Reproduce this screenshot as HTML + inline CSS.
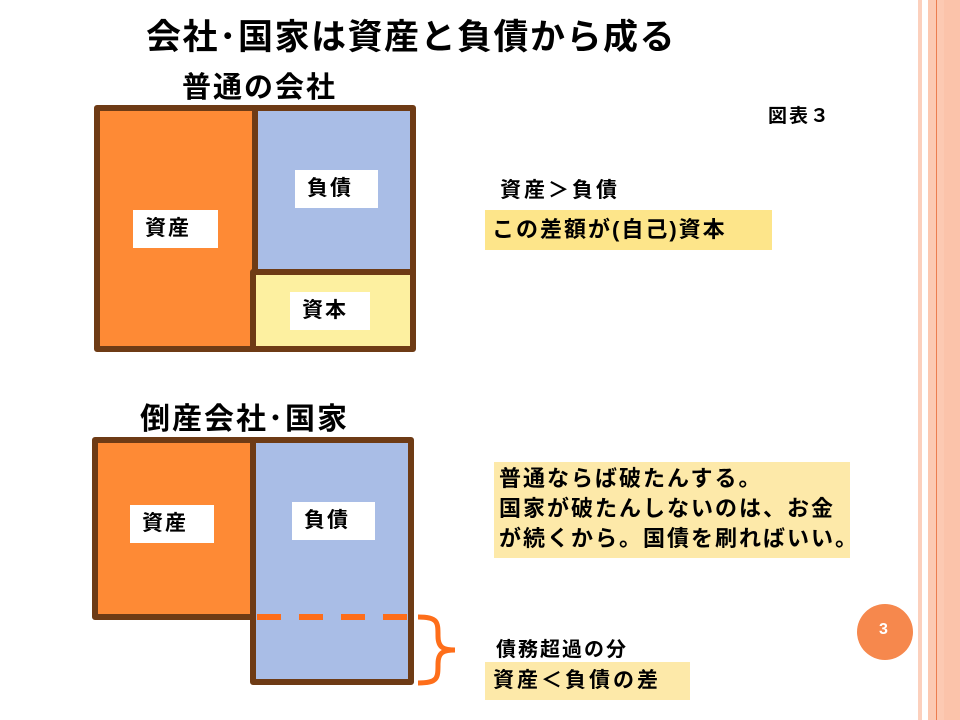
<!DOCTYPE html>
<html><head><meta charset="utf-8"><style>
html,body{margin:0;padding:0;background:#fff;}
body{width:960px;height:720px;position:relative;overflow:hidden;font-family:"Liberation Sans","Noto Sans CJK JP",sans-serif;font-weight:bold;color:#000;}
.t{position:absolute;white-space:nowrap;}
.lb{position:absolute;background:#fff;font-size:21px;line-height:38px;padding-left:12px;box-sizing:border-box;letter-spacing:2px;}
.yb{position:absolute;background:#fde58a;box-sizing:border-box;white-space:nowrap;}
</style></head><body>
<div style="position:absolute;left:918px;top:0;width:4px;height:720px;background:#fcd0bd"></div>
<div style="position:absolute;left:928px;top:0;width:32px;height:720px;background:#fcc9b2"></div>
<div style="position:absolute;left:936px;top:0;width:1px;height:720px;background:#ec7d4f"></div>
<div style="position:absolute;left:944px;top:0;width:16px;height:720px;background:#fbc3aa"></div>

<div class="t" style="left:146px;top:9px;font-size:35px;letter-spacing:1.5px;">会社･国家は資産と負債から成る</div>
<div class="t" style="left:182px;top:64px;font-size:29px;letter-spacing:2px;">普通の会社</div>
<div class="t" style="left:768px;top:101px;font-size:19px;letter-spacing:2px;">図表３</div>
<div class="t" style="left:140px;top:394px;font-size:30px;letter-spacing:2px;">倒産会社･国家</div>

<svg width="960" height="720" style="position:absolute;left:0;top:0">
<g stroke="#6e3b15" stroke-width="6" stroke-linejoin="round">
<rect x="97" y="108" width="158" height="241" fill="#fe8a35"/>
<rect x="255" y="108" width="158" height="164" fill="#a9bde6"/>
<rect x="253" y="272" width="160" height="77" fill="#fdf0a0"/>
<rect x="95" y="440" width="160" height="177" fill="#fe8a35"/>
<rect x="253" y="440" width="158" height="242" fill="#a9bde6"/>
</g>
<line x1="257" y1="617" x2="408" y2="617" stroke="#fe6e1a" stroke-width="6" stroke-dasharray="24,18"/>
<path d="M418 617 C438 617 438 622 438 636 C438 648 444 650 455 650 C444 650 438 652 438 664 C438 678 438 683 418 683" fill="none" stroke="#fe6e1a" stroke-width="5"/>
<circle cx="885" cy="632" r="28" fill="#f6884d"/>
</svg>

<div class="lb" style="left:133px;top:210px;width:85px;">資産</div>
<div class="lb" style="left:295px;top:170px;width:83px;">負債</div>
<div class="lb" style="left:290px;top:292px;width:80px;">資本</div>
<div class="lb" style="left:130px;top:505px;width:84px;">資産</div>
<div class="lb" style="left:292px;top:502px;width:83px;">負債</div>

<div class="t" style="left:500px;top:174px;font-size:21px;letter-spacing:3px;">資産＞負債</div>
<div class="yb" style="left:485px;top:210px;width:287px;height:40px;line-height:40px;padding-left:7px;font-size:22px;letter-spacing:2px;">この差額が(自己)資本</div>
<div class="yb" style="left:494px;top:462px;width:356px;height:96px;line-height:30px;padding:2px 0 0 5px;font-size:22px;letter-spacing:2px;background:#fde9a9;">普通ならば破たんする。<br>国家が破たんしないのは、お金<br>が続くから。国債を刷ればいい。</div>
<div class="t" style="left:496px;top:633px;font-size:20px;letter-spacing:2px;">債務超過の分</div>
<div class="yb" style="left:485px;top:662px;width:205px;height:38px;line-height:38px;padding-left:8px;font-size:21px;letter-spacing:3px;background:#fde9a9;">資産＜負債の差</div>
<div class="t" style="left:879px;top:621px;font-size:16px;color:#fff;">3</div>
</body></html>
